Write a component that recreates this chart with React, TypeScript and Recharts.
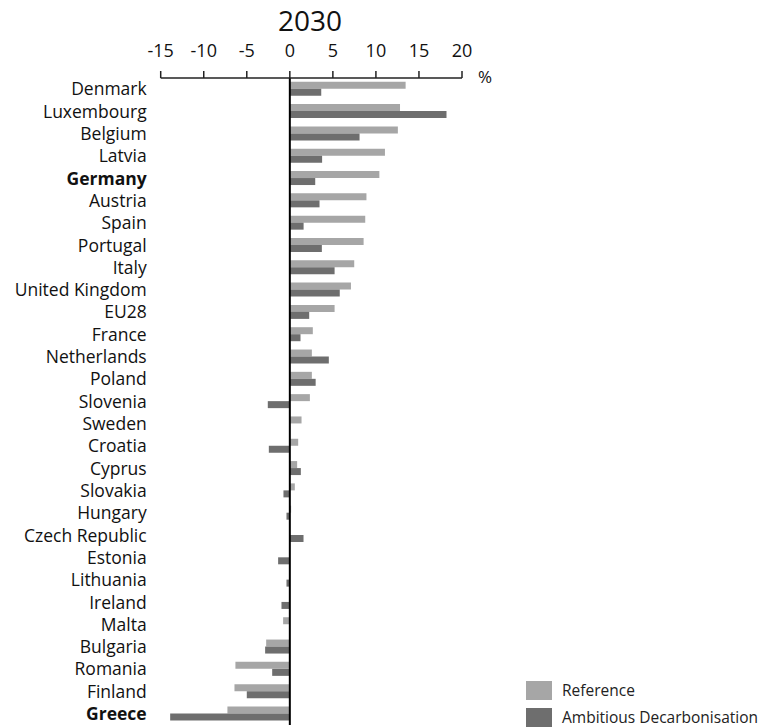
import React from "react";
import { BarChart, Bar, XAxis, YAxis, ReferenceLine } from "recharts";

const countries = [
  "Denmark", "Luxembourg", "Belgium", "Latvia", "Germany", "Austria", "Spain",
  "Portugal", "Italy", "United Kingdom", "EU28", "France", "Netherlands", "Poland",
  "Slovenia", "Sweden", "Croatia", "Cyprus", "Slovakia", "Hungary", "Czech Republic",
  "Estonia", "Lithuania", "Ireland", "Malta", "Bulgaria", "Romania", "Finland", "Greece",
];

const reference = [
  13.45, 12.8, 12.55, 11.05, 10.4, 8.9, 8.76, 8.57, 7.48, 7.1, 5.2, 2.67, 2.56, 2.56,
  2.33, 1.36, 0.97, 0.85, 0.58, 0.15, 0, 0, 0, 0, -0.78, -2.75, -6.32, -6.43, -7.25,
];

const ambitious = [
  3.65, 18.2, 8.1, 3.75, 2.95, 3.45, 1.6, 3.72, 5.2, 5.8, 2.25, 1.24, 4.53, 3.0,
  -2.56, 0, -2.44, 1.28, -0.74, -0.39, 1.59, -1.36, -0.39, -0.97, 0, -2.87, -2.05, -5.0, -13.9,
];

const xTicks = [-15, -10, -5, 0, 5, 10, 15, 20];
const boldCountries = ["Germany", "Greece"];

const refColor = "#a6a6a6";
const adColor = "#6e6e6e";
const font = "'Open Sans', sans-serif";

const data = countries.map((name, i) => ({
  name,
  reference: reference[i],
  ambitious: ambitious[i],
}));

const CountryTick = (props: any) => {
  const { x, y, payload } = props;
  const bold = boldCountries.includes(payload.value);
  return (
    <text
      x={x}
      y={y}
      dy="0.355em"
      textAnchor="end"
      fontSize={17.5}
      fontFamily={font}
      fontWeight={bold ? 700 : 400}
      fill="#111"
    >
      {payload.value}
    </text>
  );
};

const legendItems = [
  { label: "Reference", color: refColor },
  { label: "Ambitious Decarbonisation", color: adColor },
];

export default function App() {
  return (
    <div style={{ position: "absolute", left: 0, top: 0, width: 766, height: 728, background: "#fff" }}>
      <div
        style={{
          position: "absolute",
          left: 210,
          width: 200,
          top: 1,
          textAlign: "center",
          fontFamily: font,
          fontSize: 28,
          color: "#111",
        }}
      >
        2030
      </div>
      <div
        style={{ position: "absolute", left: 478, top: 65, fontFamily: font, fontSize: 17, color: "#111" }}
      >
        %
      </div>
      <BarChart
        width={766}
        height={728}
        data={data}
        layout="vertical"
        barCategoryGap="17%"
        barGap={0}
        margin={{ top: 38, right: 304, left: 0, bottom: 3 }}
      >
        <XAxis
          type="number"
          orientation="top"
          domain={[-15, 20]}
          ticks={xTicks}
          height={40}
          tickSize={7}
          tickMargin={14}
          interval={0}
          allowDataOverflow
          axisLine={{ stroke: "#222", strokeWidth: 1.5 }}
          tickLine={{ stroke: "#222", strokeWidth: 1.5 }}
          tick={{ fontSize: 18, fontFamily: font, fill: "#111" }}
        />
        <YAxis
          type="category"
          dataKey="name"
          width={160.7}
          axisLine={false}
          tickLine={false}
          tickSize={0}
          tickMargin={14}
          interval={0}
          tick={<CountryTick />}
        />
        <Bar dataKey="reference" fill={refColor} isAnimationActive={false} />
        <Bar dataKey="ambitious" fill={adColor} isAnimationActive={false} />
        <ReferenceLine x={0} stroke="#000" strokeWidth={2} />
      </BarChart>
      {legendItems.map((item, i) => (
        <div
          key={item.label}
          style={{
            position: "absolute",
            left: 526,
            top: 681 + i * 27,
            height: 19,
            lineHeight: "19px",
            display: "flex",
            alignItems: "center",
            fontFamily: font,
            fontSize: 15.5,
            color: "#222",
            whiteSpace: "nowrap",
          }}
        >
          <span style={{ width: 26, height: 19, background: item.color, marginRight: 10 }} />
          {item.label}
        </div>
      ))}
    </div>
  );
}
